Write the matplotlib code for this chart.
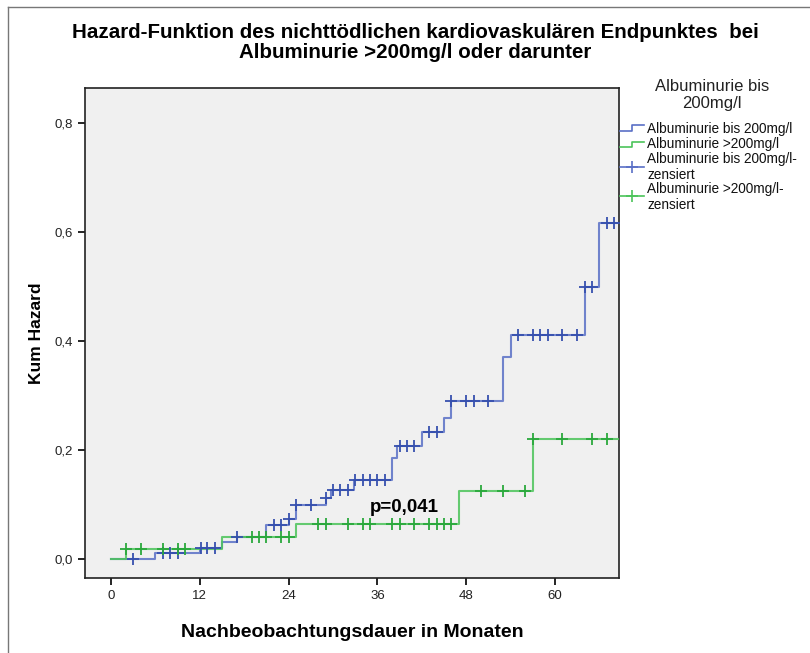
import matplotlib.pyplot as plt
import numpy as np
from matplotlib.lines import Line2D

plt.rcParams['font.family'] = ['Liberation Sans', 'DejaVu Sans']

# Albuminurie bis 200mg/l (blue): step times / cumulative hazard, censored times
low_t = [0, 6, 12, 15, 17, 21, 24, 25, 29, 29.7, 32.8, 38, 38.7, 42, 45, 46,
         53, 54, 64, 66]
low_h = [0, 0.010, 0.020, 0.031, 0.041, 0.062, 0.074, 0.099, 0.111, 0.127,
         0.145, 0.185, 0.208, 0.232, 0.258, 0.289, 0.370, 0.411, 0.498, 0.616]
low_cens = [3, 7, 8, 9, 12.2, 13, 14, 17, 22, 23, 24, 25, 27, 29, 30, 31, 32,
            33, 34, 35, 36, 37, 39, 40, 41, 43, 44, 46, 48, 49, 51, 55, 57,
            58, 59, 61, 63, 64, 65, 67, 68]
low_end = 68.6

# Albuminurie >200mg/l (green)
high_t = [0, 2, 15, 25, 47, 57]
high_h = [0, 0.018, 0.040, 0.064, 0.125, 0.220]
high_cens = [2, 4, 7, 9, 10, 19, 20, 21, 23, 24, 28, 29, 32, 34, 35, 38, 39,
             41, 43, 44, 45, 46, 50, 53, 56, 57, 61, 65, 67]
high_end = 68.5

xticks = [0, 12, 24, 36, 48, 60]
yticks = [0.0, 0.2, 0.4, 0.6, 0.8]
ytick_labels = ['0,0', '0,2', '0,4', '0,6', '0,8']

BLUE_LINE, BLUE_MARK = '#5a70c6', '#3650ae'
GREEN_LINE, GREEN_MARK = '#4cc45a', '#2aa83c'

W, H = 810, 653


def fx(x):
    return x / W


def fy(y):
    return 1 - y / H


def level_at(ts, hs, t):
    idx = np.searchsorted(ts, t, side='right') - 1
    return np.asarray(hs)[idx]


def plot_group(ax, ts, hs, cens, end, lc, mc):
    x = list(ts) + [end]
    y = list(hs) + [hs[-1]]
    ax.step(x, y, where='post', color=lc, lw=1.5, alpha=0.85, zorder=3)
    ax.plot(cens, level_at(ts, hs, cens), '+', color=mc, ms=8, mew=1.3,
            ls='none', zorder=4)


fig = plt.figure(figsize=(W / 100, H / 100), dpi=100)
ax = fig.add_axes([fx(85), fy(578), fx(619) - fx(85), fy(88) - fy(578)])
ax.set_facecolor('#f0f0f0')

plot_group(ax, low_t, low_h, low_cens, low_end, BLUE_LINE, BLUE_MARK)
plot_group(ax, high_t, high_h, high_cens, high_end, GREEN_LINE, GREEN_MARK)

ax.text(39.6, 0.095, 'p=0,041', fontsize=13.5, fontweight='bold',
        ha='center', va='center')

ax.set_xlim(-3.5, 68.65)
ax.set_ylim(-0.035, 0.864)
ax.set_xticks(xticks)
ax.set_yticks(yticks)
ax.set_yticklabels(ytick_labels)
ax.tick_params(direction='out', length=5, width=1.2, labelsize=9.5,
               labelcolor='#222222')
for s in ax.spines.values():
    s.set_color('#222222')
    s.set_linewidth(1.2)

ax.set_xlabel('Nachbeobachtungsdauer in Monaten', fontsize=14,
              fontweight='bold', labelpad=16)
ax.set_ylabel('Kum Hazard', fontsize=12.5, fontweight='bold', labelpad=8)

fig.text(fx(415), fy(42.5),
         'Hazard-Funktion des nichttödlichen kardiovaskulären Endpunktes  bei\n'
         'Albuminurie >200mg/l oder darunter',
         ha='center', va='center', fontsize=14.8, fontweight='bold',
         linespacing=1.08)

# legend, drawn by hand next to the right spine
fig.text(fx(712), fy(95), 'Albuminurie bis\n200mg/l', ha='center',
         va='center', fontsize=12, linespacing=1.1, color='#222222')
leg = fig.add_artist
tr = fig.transFigure
for col, ylo, yhi in [(BLUE_LINE, 131, 125), (GREEN_LINE, 147, 142)]:
    leg(Line2D([fx(620), fx(632), fx(632), fx(644)],
               [fy(ylo), fy(ylo), fy(yhi), fy(yhi)], color=col, lw=1.2,
               transform=tr))
for col, yy in [(BLUE_LINE, 167), (GREEN_LINE, 196)]:
    leg(Line2D([fx(620), fx(644)], [fy(yy), fy(yy)], color=col, lw=1.2,
               transform=tr))
    leg(Line2D([fx(632)], [fy(yy)], color=col, marker='+', ms=9, mew=1.2,
               transform=tr))
entries = [(129, 'Albuminurie bis 200mg/l'), (144, 'Albuminurie >200mg/l'),
           (167, 'Albuminurie bis 200mg/l-\nzensiert'),
           (197, 'Albuminurie >200mg/l-\nzensiert')]
for yy, txt in entries:
    fig.text(fx(647), fy(yy), txt, ha='left', va='center', fontsize=9.8,
             linespacing=1.15, color='#111111')

# outer frame lines
leg(Line2D([fx(8), fx(8)], [fy(7), 0], color='#777777', lw=1, transform=tr))
leg(Line2D([fx(8), 1], [fy(7), fy(7)], color='#777777', lw=1, transform=tr))

fig.savefig('out.png', dpi=100)
